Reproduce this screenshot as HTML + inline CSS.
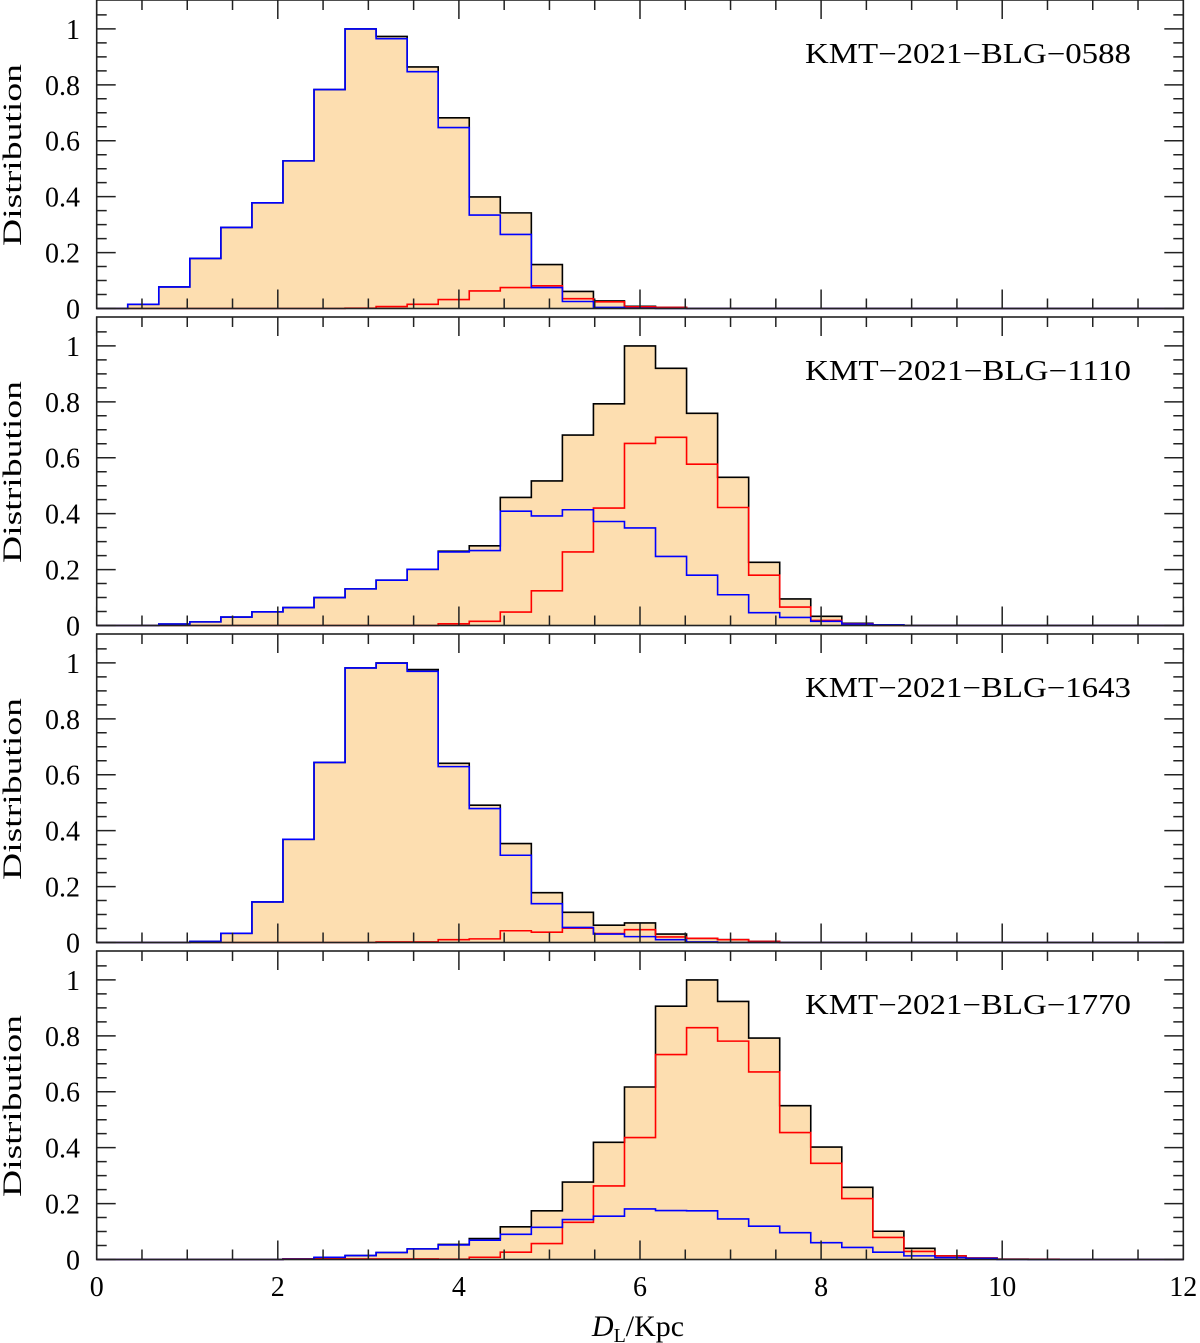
<!DOCTYPE html>
<html><head><meta charset="utf-8"><style>
html,body{margin:0;padding:0;background:#fff}
svg{display:block}
text{font-family:"Liberation Serif",serif;fill:#000}
</style></head><body>
<svg id="chart" width="1200" height="1343" viewBox="0 0 1200 1343" xmlns="http://www.w3.org/2000/svg"></svg>
<script>
const nBins = 35;
const xMax = 12;
const panelLabels = ["KMT\u22122021\u2212BLG\u22120588","KMT\u22122021\u2212BLG\u22121110","KMT\u22122021\u2212BLG\u22121643","KMT\u22122021\u2212BLG\u22121770"];
const xTickLabels = ["0","2","4","6","8","10","12"];
const yTickLabels = ["0","0.2","0.4","0.6","0.8","1"];
const totalP1 = [0,0.015,0.077,0.179,0.290,0.378,0.528,0.783,1.0,0.973,0.864,0.682,0.399,0.342,0.157,0.061,0.027,0.008,0.004];
const blueP1 = [0,0.015,0.077,0.179,0.290,0.378,0.528,0.783,1.0,0.965,0.847,0.647,0.334,0.265,0.075,0.025,0.004,0.001,0];
const redP1 = [0,0,0,0,0,0,0,0,0.001,0.007,0.015,0.032,0.063,0.075,0.081,0.035,0.024,0.006,0.004];
const totalP2 = [0,0,0.005,0.013,0.030,0.049,0.064,0.100,0.131,0.162,0.201,0.266,0.285,0.458,0.517,0.681,0.793,1.0,0.920,0.759,0.530,0.226,0.095,0.033,0.008,0.002];
const blueP2 = [0,0,0.005,0.013,0.030,0.049,0.064,0.100,0.131,0.162,0.201,0.263,0.268,0.409,0.392,0.414,0.372,0.349,0.247,0.180,0.110,0.046,0.029,0.015,0.005,0.002];
const redP2 = [0,0,0,0,0,0,0,0,0,0,0,0.006,0.015,0.048,0.124,0.263,0.420,0.651,0.673,0.577,0.422,0.180,0.066,0.018,0.006,0];
const totalP3 = [0,0,0,0.004,0.033,0.145,0.369,0.644,0.982,1.0,0.976,0.641,0.491,0.354,0.178,0.108,0.062,0.070,0.030,0.015,0.010,0.004];
const blueP3 = [0,0,0,0.004,0.033,0.145,0.369,0.644,0.982,0.999,0.970,0.629,0.479,0.312,0.139,0.054,0.030,0.021,0.010,0.002,0,0];
const redP3 = [0,0,0,0,0,0,0,0,0,0.002,0.002,0.010,0.013,0.042,0.037,0.051,0.032,0.046,0.020,0.015,0.010,0.004];
const totalP4 = [0,0,0,0,0,0,0.002,0.007,0.014,0.025,0.038,0.054,0.075,0.117,0.174,0.277,0.419,0.617,0.906,1.0,0.923,0.792,0.550,0.402,0.258,0.101,0.040,0.013,0.005,0.001];
const blueP4 = [0,0,0,0,0,0,0.001,0.008,0.014,0.025,0.038,0.052,0.069,0.090,0.115,0.143,0.155,0.181,0.175,0.174,0.145,0.119,0.096,0.060,0.043,0.026,0.013,0.007,0.004,0];
const redP4 = [0,0,0,0,0,0,0.002,0.002,0.002,0.002,0.002,0.001,0.008,0.026,0.057,0.133,0.263,0.436,0.733,0.829,0.781,0.671,0.454,0.344,0.218,0.079,0.029,0.013,0.005,0.001,0.001];

const totals = [totalP1,totalP2,totalP3,totalP4];
const blues = [blueP1,blueP2,blueP3,blueP4];
const reds = [redP1,redP2,redP3,redP4];

const NS = "http://www.w3.org/2000/svg";
const svg = document.getElementById("chart");
const X0 = 96.7, X1 = 1183.3;
const PH = 308.5, YUNIT = 279.6;
const xs = v => X0 + (X1 - X0) * v / xMax;
function mk(tag, attrs, parent){
  const e = document.createElementNS(NS, tag);
  for (const k in attrs) e.setAttribute(k, attrs[k]);
  (parent || svg).appendChild(e);
  return e;
}
function pad(a){ const r = a.slice(); while (r.length < nBins) r.push(0); return r; }
function stepPath(vals, ys){
  let d = "";
  for (let i = 0; i < nBins; i++){
    const xa = xs(i*xMax/nBins), xb = xs((i+1)*xMax/nBins), y = ys(vals[i]);
    d += (i === 0 ? "M" : "L") + xa.toFixed(2) + "," + y.toFixed(2) + " L" + xb.toFixed(2) + "," + y.toFixed(2) + " ";
  }
  return d;
}
for (let p = 0; p < 4; p++){
  const top = 317*p, bottom = top + PH;
  const ys = v => bottom - v*YUNIT;
  const g = mk("g", {});
  
  
  const tot = pad(totals[p]), blu = pad(blues[p]), red = pad(reds[p]);
  let fd = "M" + xs(0) + "," + bottom + " ";
  for (let i = 0; i < nBins; i++){
    fd += "L" + xs(i*xMax/nBins).toFixed(2) + "," + ys(tot[i]).toFixed(2) + " L" + xs((i+1)*xMax/nBins).toFixed(2) + "," + ys(tot[i]).toFixed(2) + " ";
  }
  fd += "L" + xs(xMax) + "," + bottom + " Z";
  const fill = mk("path", {d: fd, fill: "#fddeb0", stroke: "none"}, g);
  
  
  const lt = mk("path", {d: stepPath(tot, ys), fill: "none", stroke: "#000", "stroke-width": 1.6}, g);
  
  
  const lr = mk("path", {d: stepPath(red, ys), fill: "none", stroke: "#ff0000", "stroke-width": 1.6}, g);
  
  
  const lb = mk("path", {d: stepPath(blu, ys), fill: "none", stroke: "#0000ff", "stroke-width": 1.6}, g);
  
  
  const fr = mk("rect", {x: X0, y: top, width: X1-X0, height: PH, fill: "none", stroke: "#222", "stroke-width": 1.6}, g);
  
  
  let td = "";
  for (let k = 0; k <= 24; k++){
    const v = k*0.5, x = xs(v), L = (k % 4 === 0) ? 19 : 10;
    td += "M" + x + "," + bottom + " v" + (-L) + " M" + x + "," + top + " v" + L + " ";
  }
  for (let k = 0; k <= 22; k++){
    const v = k*0.05, y = ys(v);
    if (y < top + 1) continue;
    const L = (k % 4 === 0) ? 19 : 10;
    td += "M" + X0 + "," + y + " h" + L + " M" + X1 + "," + y + " h" + (-L) + " ";
  }
  const tk = mk("path", {d: td, stroke: "#222", "stroke-width": 1.5, fill: "none"}, g);
  
  
  for (let k = 0; k < yTickLabels.length; k++){
    const t = mk("text", {x: 80, y: ys(k*0.2) + 10, "text-anchor": "end", "font-size": 28}, g);
    t.textContent = yTickLabels[k];
    
    
  }
  const yt = mk("text", {x: 0, y: 0, "text-anchor": "middle", "font-size": 26, transform: "translate(21," + (top + 155) + ") rotate(-90)", textLength: 182, lengthAdjust: "spacingAndGlyphs"}, g);
  yt.textContent = "Distribution";
  
  
  const lab = mk("text", {x: 805, y: top + 63, "font-size": 28, textLength: 326, lengthAdjust: "spacingAndGlyphs"}, g);
  lab.textContent = panelLabels[p];
  
  
}
for (let k = 0; k < xTickLabels.length; k++){
  const t = mk("text", {x: xs(k*2), y: 1296, "text-anchor": "middle", "font-size": 28});
  t.textContent = xTickLabels[k];
  
  
}
const xt = mk("text", {x: 638, y: 1336, "text-anchor": "middle", "font-size": 30});


const t1 = mk("tspan", {"font-style": "italic"}, xt); t1.textContent = "D";
const t2 = mk("tspan", {"font-size": 20, dy: 6}, xt); t2.textContent = "L";
const t3 = mk("tspan", {dy: -6}, xt); t3.textContent = "/Kpc";
</script>
</body></html>
